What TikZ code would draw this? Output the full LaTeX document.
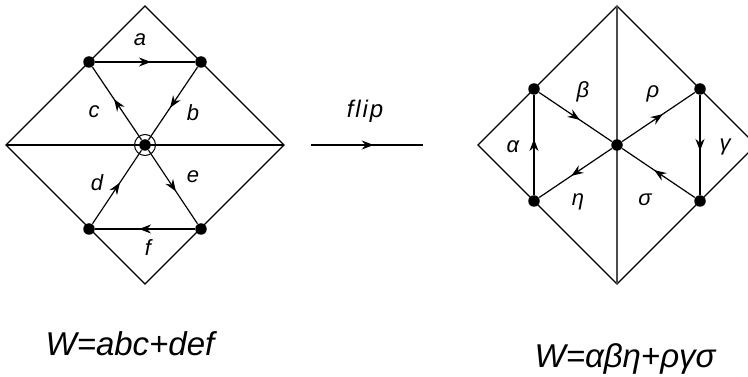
\documentclass[tikz,border=0pt]{standalone}
\usepackage{fontspec}
\setmainfont{Liberation Sans}
\usetikzlibrary{arrows.meta,decorations.markings}

\begin{document}
\begin{tikzpicture}[
  x=1pt,y=-1pt,
  line width=1.2pt,
  dot/.style={circle, fill, inner sep=0pt, minimum size=11.5pt},
  midarr/.style={postaction={decorate}, decoration={markings,
      mark=at position 0.56 with {\arrow{Stealth[length=12pt,width=9pt]}}}},
  lab/.style={font=\fontsize{22}{22}\selectfont\itshape},
  formula/.style={font=\fontsize{33}{33}\selectfont\itshape, anchor=base west, inner sep=0pt}
]
\useasboundingbox (0,0) rectangle (748,377);
\clip (0,0) rectangle (748,377);

% left quiver
\coordinate (lt) at (145,6);
\coordinate (lw) at (6,145);
\coordinate (le) at (284,145);
\coordinate (lb) at (145,284);
\draw (lt) -- (le) -- (lb) -- (lw) -- cycle;
\draw (lw) -- (le);

\node[dot] (c0) at (145,145) {};
\node[draw, circle, inner sep=0pt, minimum size=21pt, line width=1pt] (ring) at (c0) {};
\node[dot] (l1) at (89,62) {};
\node[dot] (l2) at (201,62) {};
\node[dot] (l3) at (89,229) {};
\node[dot] (l4) at (201,229) {};

\draw[midarr] (l1) -- (l2);
\draw[midarr] (l2) -- (c0);
\draw[midarr] (c0) -- (l1);
\draw[midarr] (l3) -- (c0);
\draw[midarr] (c0) -- (l4);
\draw[midarr] (l4) -- (l3);

\node[lab] at (140,40) {a};
\node[lab] at (193,113) {b};
\node[lab] at (94,112) {c};
\node[lab] at (97,183) {d};
\node[lab] at (193,177) {e};
\node[lab] at (148,248) {f};

% flip arrow
\coordinate (f1) at (311,145);
\coordinate (f2) at (423,145);
\draw[midarr] (f1) -- (f2);
\node[font=\fontsize{24}{24}\selectfont\itshape\addfontfeatures{LetterSpace=8}, anchor=base] (flip) at (365,118) {flip};

% right quiver
\coordinate (rt) at (617,6);
\coordinate (rw) at (478,145);
\coordinate (re) at (756,145);
\coordinate (rb) at (617,284);
\draw (rt) -- (re) -- (rb) -- (rw) -- cycle;
\draw[black!70] (rt) -- (rb);

\node[dot] (c1) at (617,145) {};
\node[dot] (r1) at (534,89) {};
\node[dot] (r2) at (700,89) {};
\node[dot] (r3) at (534,201) {};
\node[dot] (r4) at (700,201) {};

\draw[midarr] (r1) -- (c1);
\draw[midarr] (c1) -- (r2);
\draw[midarr] (r2) -- (r4);
\draw[midarr] (r4) -- (c1);
\draw[midarr] (c1) -- (r3);
\draw[midarr] (r3) -- (r1);

\node[lab] at (513,147) {α};
\node[lab] at (583,92) {β};
\node[lab] at (578,202) {η};
\node[lab] at (653,94) {ρ};
\node[lab] at (725,147) {γ};
\node[lab] at (645,200) {σ};

% potentials
\node[formula] (wl) at (45,355) {W=abc+def};
\node[formula] (wr) at (534,367) {W=αβη+ργσ};
\end{tikzpicture}
\end{document}
